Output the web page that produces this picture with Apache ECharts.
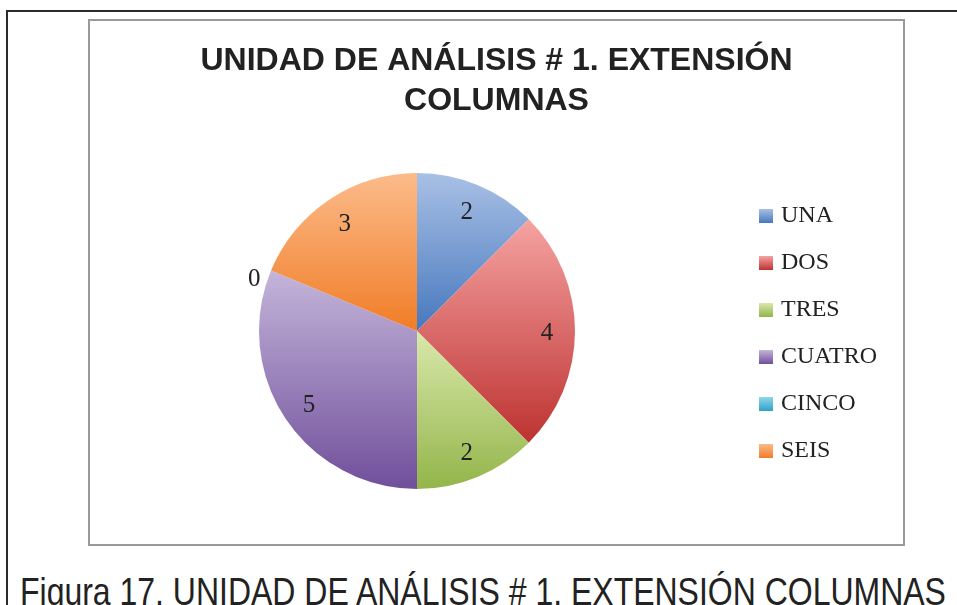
<!DOCTYPE html>
<html>
<head>
<meta charset="utf-8">
<script src="https://cdn.jsdelivr.net/npm/echarts@6/dist/echarts.min.js"></script>
<style>
body{margin:0;width:957px;height:605px;overflow:hidden;background:#fff;position:relative}
#frame{position:absolute;left:6px;top:10px;width:1000px;height:700px;border:2px solid #2b2b2b}
#chart{position:absolute;left:88px;top:19px;width:817px;height:527px;border:2px solid #9a9a9a;box-sizing:border-box;background:#fff}
#caption{position:absolute;left:20px;top:572px;font:39px/39px "Liberation Sans",Arial,sans-serif;color:#222;white-space:nowrap;transform:scaleX(0.82);transform-origin:0 0}
</style>
</head>
<body>
<div id="frame"></div>
<div id="chart"></div>
<div id="caption">Figura 17. UNIDAD DE ANÁLISIS # 1. EXTENSIÓN COLUMNAS</div>
<script>
var categories = ['UNA', 'DOS', 'TRES', 'CUATRO', 'CINCO', 'SEIS'];
var values = [2, 4, 2, 5, 0, 3];

// light top -> dark bottom, like the office gradient fill
var topColors = ['#a9c0e5', '#f5a3a2', '#d9e8ab', '#c4b5da', '#90d6ee', '#fcbb8a'];
var bottomColors = ['#4678be', '#bd3331', '#93b54a', '#704f9b', '#2fa3c6', '#f07d27'];

var pieData = categories.map(function (name, i) {
    return {
        name: name,
        value: values[i],
        itemStyle: {
            color: new echarts.graphic.LinearGradient(0, 0, 0, 1, [
                {offset: 0, color: topColors[i]},
                {offset: 1, color: bottomColors[i]}
            ])
        }
    };
});

// second transparent ring only carries the value labels, further out than 'inside' would put them
var labelData = categories.map(function (name, i) {
    var item = {name: name, value: values[i]};
    if (values[i] === 0) {
        item.label = {position: 'outside', distanceToLabelLine: 5, offset: [0, 9]};
        item.labelLine = {show: false, length: 6, length2: 0};
    }
    return item;
});

var serif = '"Liberation Serif", "Times New Roman", serif';

var option = {
    animation: false,
    title: {
        text: 'UNIDAD DE ANÁLISIS # 1. EXTENSIÓN\nCOLUMNAS',
        left: 'center',
        top: 20,
        padding: 0,
        textStyle: {
            fontFamily: '"Liberation Sans", Arial, sans-serif',
            fontWeight: 'bold',
            fontSize: 32,
            lineHeight: 40,
            color: '#222'
        }
    },
    legend: {
        data: categories,
        orient: 'vertical',
        left: 669,
        top: 183,
        padding: 0,
        icon: 'rect',
        itemWidth: 14,
        itemHeight: 14,
        itemGap: 23,
        textStyle: {
            fontFamily: serif,
            fontSize: 24,
            lineHeight: 24,
            color: '#222',
            padding: [0, 0, 0, 3]
        }
    },
    series: [
        {
            name: 'main',
            type: 'pie',
            center: [327, 310],
            radius: [0, 158],
            startAngle: 90,
            clockwise: true,
            avoidLabelOverlap: false,
            label: {show: false},
            labelLine: {show: false},
            itemStyle: {borderWidth: 0},
            emphasis: {disabled: true},
            data: pieData
        },
        {
            name: 'labels',
            type: 'pie',
            center: [327, 312],
            radius: [96, 158],
            startAngle: 90,
            clockwise: true,
            silent: true,
            legendHoverLink: false,
            avoidLabelOverlap: false,
            itemStyle: {color: 'rgba(0,0,0,0)', borderWidth: 0},
            label: {
                show: true,
                position: 'inside',
                formatter: '{c}',
                fontFamily: serif,
                fontSize: 25,
                color: '#222'
            },
            labelLine: {show: false},
            emphasis: {disabled: true},
            data: labelData
        }
    ]
};

var myChart = echarts.init(document.getElementById('chart'));
myChart.setOption(option);
</script>
</body>
</html>
